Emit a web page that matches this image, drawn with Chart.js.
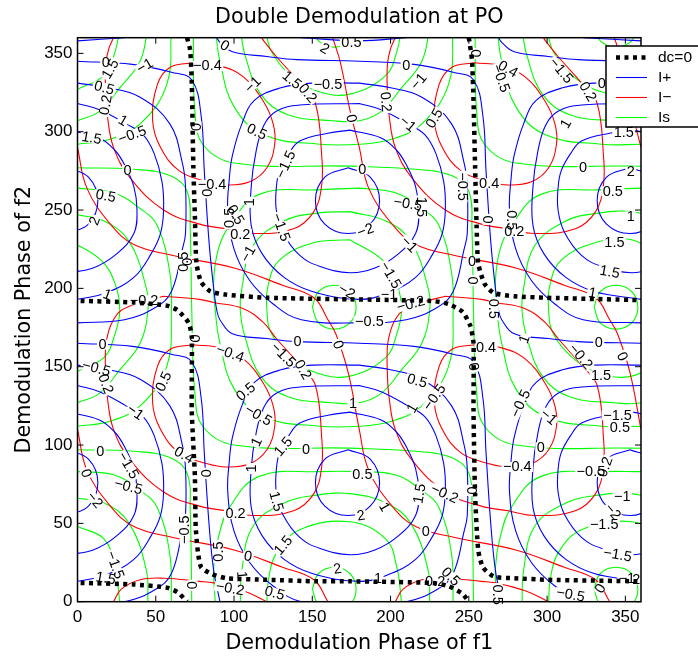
<!DOCTYPE html>
<html><head><meta charset="utf-8">
<style>html,body{margin:0;padding:0;background:#fff}canvas{display:block}</style>
<script src="https://cdn.jsdelivr.net/npm/chart.js@4"></script>
</head><body>
<canvas id="c" width="698" height="656"></canvas>
<script>
const xTickValues=[0,50,100,150,200,250,300,350];
const titleText="Double Demodulation at PO";
const xTitle="Demodulation Phase of f1";
const yTitle="Demodulation Phase of f2";

const dcCurves=[
[2,12,36,11,57,9,64,6,70,0],
[2,192,36,191,57,189,64,186,71,178,73,169,73,122,75,80,75.5,48,77,31,79,22,85,18,95,15,121,14,153,13,174,13,226,12,237,10,246,5,250,0],
[70,360,72,352,73,331,74,278,75,246,76,216,79,204,85,198,95,196,121,194,174,193,226,192,237,190,246,185,251,176,253,165,253,122,254,69,256,33,259,22,266,16,279,15,300,14,360,13],
[250,360,252,346,253,320,254,278,255,239,256,216,260,203,266,197,279,195,300,194,360,192.5]
];

const iPlusCurves=[
[0,345,35,343,60,338,73,333,79,310,81,275,84,230,87,200,89,186,91,180,99,171,121,168,140,166,180,165,215,163,240,158,253,153,259,130,261,95,264,50,267,20,271,0],
[89,360,91,357,99,351,121,348,140,346,180,345,215,343,240,338,253,333,259,310,261,275,264,230,267,200,269,186,271,180,279,171,301,168,320,166,360,165],
[269,360,271,357,279,351,301,348,320,346,360,345],
[0,165,35,163,60,158,73,153,79,130,81,95,84,50,87,20,91,0],
[173,97,187,91,193,76,187,61,173,55,158,61,152,76,158,91,173,97],
[353,97,367,91,373,76,367,61,353,55,338,61,332,76,338,91,353,97],
[-7,97,7,91,13,76,7,61,-7,55],
[173,277,187,271,193,256,187,241,173,235,158,241,152,256,158,271,173,277],
[353,277,367,271,373,256,367,241,353,235,338,241,332,256,338,271,353,277],
[-7,277,7,271,13,256,7,241,-7,235],
[174,121,160,119,142,114,135,106,129,95,127,84,127,70,131,56,142,41,155,34,174,30,190,33,205,42,216,55,218,70,216,85,210,99,204,108,194,116,174,121],
[374,116,354,121,340,119,322,114,315,106,309,95,307,84,307,70,311,56,322,41,335,34,354,30,370,33],
[-6,30,10,33,25,42,36,55,38,70,36,85,30,99,24,108,14,116,-6,121],
[174,301,160,299,142,294,135,286,129,275,127,264,127,250,131,236,142,221,155,214,174,210,190,213,205,222,216,235,218,250,216,265,210,279,204,288,194,296,174,301],
[374,296,354,301,340,299,322,294,315,286,309,275,307,264,307,250,311,236,322,221,335,214,354,210,370,213],
[-6,210,10,213,25,222,36,235,38,250,36,265,30,279,24,288,14,296,-6,301],
[180,138,142,137,127,133,119,124,114,107,111,85,111,60,118,42,132,27,150,18,180,13,198,17,216,27,227,42,233,55,235,70,234,88,229,106,222,118,211,125,194,134,180,138],
[360,138,322,137,307,133,299,124,294,107,291,85,291,60,298,42,312,27,330,18,360,13],
[0,13,18,17,36,27,47,42,53,55,55,70,54,88,49,106,42,118,31,125,14,134,0,138],
[180,318,142,317,127,313,119,304,114,287,111,265,111,240,118,222,132,207,150,198,180,193,198,197,216,207,227,222,233,235,235,250,234,268,229,286,222,298,211,305,194,314,180,318],
[360,318,322,317,307,313,299,304,294,287,291,265,291,240,298,222,312,207,330,198,360,193],
[0,193,18,197,36,207,47,222,53,235,55,250,54,268,49,286,42,298,31,305,14,314,0,318],
[180,151,150,151,130,148,113,140,105,125,99,105,97,90,96,70,100,45,110,25,125,10,143,0,180,-2,210,0,230,8,240,18,247,45,249,55,249,85,247,100,239,125,220,142,200,148,180,151],
[360,151,330,151,310,148,293,140,285,125,279,105,277,90,276,70,280,45,290,25,305,10,323,0,360,-2],
[0,-2,30,0,50,8,60,18,67,45,69,55,69,85,67,100,59,125,40,142,20,148,0,151],
[180,331,150,331,130,328,113,320,105,305,99,285,97,270,96,250,100,225,110,205,125,190,143,180,180,178,210,180,230,188,240,198,247,225,249,235,249,265,247,280,239,305,220,322,200,328,180,331],
[360,331,330,331,310,328,293,320,285,305,279,285,277,270,276,250,280,225,290,205,305,190,323,180,360,178],
[0,178,30,180,50,188,60,198,67,225,69,235,69,265,67,280,59,305,40,322,20,328,0,331],
[143,360,180,358,210,360],[323,360,360,358],[0,358,30,360]
];

const iMinusCurves=[
[0,290,6,264,21,241,36,228,61,221,100,213,131,202,151,194,160,180,165,171,173,146,180,110,186,84,201,61,216,48,241,41,280,33,311,22,331,14,340,0],
[163,360,168,344,174,314,180,290,186,264,201,241,216,228,241,221,280,213,311,202,331,194,340,180,345,171,353,146,360,110],
[343,360,348,344,354,314,360,290],
[0,110,6,84,21,61,36,48,61,41,100,33,131,22,151,14,160,0],
[74,164,59,161,51,150,48,127,53,110,65,95,83,88,95,86,110,88,121,97,126,112,125,125,119,139,106,155,91,162,74,164],
[254,164,239,161,231,150,228,127,233,110,245,95,263,88,275,86,290,88,301,97,306,112,305,125,299,139,286,155,271,162,254,164],
[74,344,59,341,51,330,48,307,53,290,65,275,83,268,95,266,110,268,121,277,126,292,125,305,119,319,106,335,91,342,74,344],
[254,344,239,341,231,330,228,307,233,290,245,275,263,268,275,266,290,268,301,277,306,292,305,305,299,319,286,335,271,342,254,344],
[55,195,40,191,28,186,23,180,20,173,18,163,18,145,19,131,23,110,34,90,55,70,78,61,95,58,112,55,138,58,151,69,156,86,156,105,152,138,143,150,127,168,119,178,106,187,87,191,78,193,55,195],
[235,195,220,191,208,186,203,180,200,173,198,163,198,145,199,131,203,110,214,90,235,70,258,61,275,58,292,55,318,58,331,69,336,86,336,105,332,138,323,150,307,168,299,178,286,187,267,191,258,193,235,195],
[23,0,28,8,40,14,55,15,78,13,87,12,106,7,119,1,122,-1],
[203,0,208,8,220,14,235,15,258,13,267,12,286,7,299,1,302,-1],
[23,360,20,353,18,343,18,325,19,311,23,290,34,270,55,250,78,241,95,238,112,235,138,238,151,249,156,266,156,285,152,318,143,330,127,348,119,358,117,361],
[203,360,200,353,198,343,198,325,199,311,203,290,214,270,235,250,258,241,275,238,292,235,318,238,331,249,336,266,336,285,332,318,323,330,307,348,299,358,297,361]
];

const isCurves=[
[0,277,36,276,59,272,70,262,72,238,73,186,75,133,80,112,100,100,174,98,216,96,239,92,250,82,252,58,253,0],
[74,360,75,313,80,292,100,280,174,278,216,276,239,272,250,262,252,238,253,186,255,133,260,112,280,100,354,98,360,98],
[0,97,36,96,59,92,70,82,72,58,73,0],
[254,360,255,313,260,292,280,280,354,278,360,278],
[150,8,154,18,164,22,174,18,178,8,174,-2,164,-6,154,-2,150,8],
[330,8,334,18,344,22,354,18,358,8,354,-2,344,-6,334,-2,330,8],
[150,188,154,198,164,202,174,198,178,188,174,178,164,174,154,178,150,188],
[330,188,334,198,344,202,354,198,358,188,354,178,344,174,334,178,330,188],
[150,368,154,358,164,354,174,358,178,368],
[330,368,334,358,344,354,354,358,358,368],
[121,0,122,14,127,31,142,46,174,51,197,40,204,22,207,0],
[301,0,302,14,307,31,322,46,354,51,377,40],
[0,48,17,40,24,22,27,0],
[174,231,150,229,129,218,122,203,121,186,124,171,136,156,153,146,174,144,197,156,204,171,207,186,204,203,195,218,174,231],
[375,218,354,231,330,229,309,218,302,203,301,186,304,171,316,156,333,146,354,144,377,156],
[0,147,17,156,24,171,27,186,24,203,15,218,-6,231],
[121,360,124,351,136,336,153,326,174,324,197,336,204,351,207,366],
[301,360,304,351,316,336,333,326,354,324,377,336],
[0,327,17,336,24,351,27,366],
[104,0,105,20,112,48,132,63,153,68,174,69,197,63,213,50,224,20,225,0],
[284,0,285,20,292,48,312,63,333,68,354,69,377,63],
[0,66,17,63,33,50,44,20,45,0],
[174,249,153,248,132,243,112,227,105,200,104,186,107,169,117,144,134,131,163,127,180,127,194,133,207,148,220,165,225,186,224,200,213,230,197,243,174,249],
[377,243,354,249,333,248,312,243,292,227,285,200,284,186,287,169,297,144,314,131,343,127,360,127,374,133],
[0,127,14,133,27,148,40,165,45,186,44,200,33,230,17,243,0,247],
[104,366,107,349,117,324,134,311,163,307,180,307,194,313,207,328,220,345,225,366],
[284,366,287,349,297,324,314,311,343,307,360,307],
[0,307,14,313,27,328,40,345,45,366],
[88,0,87,22,90,41,97,60,116,80,155,83,180,83,203,81,220,71,231,60,239,30,240,0],
[268,0,267,22,270,41,277,60,296,80,335,83,360,83],
[0,83,23,81,40,71,51,60,59,30,60,0],
[180,264,155,263,116,260,97,240,90,225,87,205,88,186,91,165,100,136,119,118,155,112,180,112,200,115,220,125,237,150,240,186,239,210,231,240,220,251,203,261,180,264],
[360,264,335,263,296,260,277,240,270,225,267,205,268,186,271,165,280,136,299,118,335,112,360,112],
[0,112,20,115,40,125,57,150,60,186,59,210,51,240,40,251,23,261,0,264],
[88,366,91,345,100,316,119,298,155,292,180,292,200,295,220,305,237,330,240,366],
[268,366,271,345,280,316,299,298,335,292,360,292],
[0,292,20,295,40,305,57,330,60,366]
];

const contourLabels=[
[18,344,"0",0],[21,340,"1.5",-60],[43,342,"−1",-30],[17,328,"0.5",15],[18,317,"0.2",-80],[29,307,"1",30],[35,298,"−0.5",-20],[9,296,"1.5",10],[32,275.5,"0",0],[18,259,"0.5",10],[11,243,"2",-70],
[83,342,"−0.4",0],[94,355,"0",30],[158,353,"2",30],[112,330,"−1",-45],[137,333,"1.5",40],[147,324.5,"0.2",50],[160,330,"−0.5",0],[114.5,300,"0.5",25],[76,303,"0",-90],[133,279,"−1.5",-65],
[86,266,"−0.4",0],[83,261,"0",-90],[110,255,"1",-90],[130,239,"−1.5",70],[97,245,"0.5",-90],[101,247,"0.5",60],[104,234.5,"0.2",0],[109,222,"−1",-60],[67.5,217,"0.5",-90],[70,217,"0",-90],[19,196,"1",20],[42.5,192.5,"−0.2",0],[172,198,"−2",30],
[175,357,"0.5",0],[254,350,"0",90],[275,340,"0.4",30],[270.5,334,"−0.5",70],[210,342.5,"0",0],[218,332,"−1",-50],[309,339,"−1.5",50],[326,325.5,"0.2",60],[335,331,"0",0],[197,319,"0.2",85],[175,308.5,"0",80],[211,305,"−1",40],[228,308.5,"0.5",-60],[312,305,"1",-60],[349,299.5,"1.5",0],
[182,276,"0",0],[323,277,"0",0],[353.5,274.5,"2",0],[246,265,"−0.5",90],[263,267,"0.4",0],[342,262,"0.5",0],[211,254,"−0.5",10],[220,252,"1.5",90],[353.5,246,"1",0],[262,244,"0",90],[277,243.5,"0.5",90],[279,236,"0.2",0],[184,237,"−2",-20],[212,228,"−1",45],[343,229.5,"1.5",0],[340,210.5,"1.5",10],[200,208.5,"−1.5",60],[252,217,"0",0],[252.5,205,"0",90],[199,196,"−1",0],[213,190,"−0.2",-15],[266,187,"0.5",90],[329,197,"1",10],[186.5,179,"−0.5",0],
[16,164,"0",0],[12,149,"−0.5",15],[18,139,"0.2",70],[55,140.5,"0.5",-65],[97.5,158.5,"−0.4",20],[75,168,"0",90],[140.5,166,"0",0],[166.5,164,"0",70],[131.5,157.5,"−1.5",45],[144,148,"0.2",60],[107.5,134,"0.5",-40],[115.5,119,"−0.5",30],[37,121,"−1",35],[114.5,102,"1",-65],[131.5,99,"1.5",-50],[14.5,96,"0",0],[146,97,"0",0],[68,93.5,"0.4",30],[32.5,87,"−1.5",60],[5.5,82,"0",70],[82,82,"0",90],[111,85,"1",-90],[32.5,73.5,"−0.5",15],[11,65,"−2",50],[101,56,"0.2",0],[127,64,"1.5",75],[68.5,46,"−0.5",-90],[90,32,"0.5",-90],[131.5,36,"1.5",-50],[109,29,"0",10],[24,23.5,"−1.5",70],[166,21,"2",-10],[18,15,"1.5",10],[105,17,"1",85],[73.5,10.5,"0",-90],[97.5,8.5,"−0.2",10],[126,5.5,"0.5",15],
[261,162,"0.4",0],[333,165.5,"0",0],[253,150,"0",80],[321.5,156.5,"−0.2",50],[285.5,167.5,"1",-70],[348,156.5,"0",65],[217,141,"0.5",15],[334.5,144.5,"1.5",0],[214,123.5,"1",-60],[228,130.5,"−0.5",-55],[176,126.5,"1",0],[283,126.5,"−0.5",-65],[345,119,"−1.5",0],[301,118,"−1",40],[346.5,111,"0.5",0],[296,98.5,"0",0],[281,86,"−0.4",0],[182,81.5,"0.5",0],[328,83,"−0.5",0],[337,86,"0.2",-70],[218.5,69,"1.5",-80],[251.5,71,"0",90],[234.5,69,"−0.2",25],[348,67,"−1",0],[342,57.5,"−2",50],[181,55,"2",-10],[196,60.5,"1",60],[336.5,49.5,"−1.5",0],[222.5,44.5,"0",0],[345,30,"−1.5",10],[192,14.5,"1",0],[228.5,13,"0.2",0],[238.5,16,"0.5",45],[268.5,4.5,"0.5",90],[315,4.5,"−0.5",10],[334,8.5,"0",-60],[351,14.5,"−1",0],[357,14,"2",0]
];

const legendNames=["dc=0","I+","I−","Is"];
const legendColors=["#000000","#0000ff","#ff0000","#00ff00"];

function pts(flat){const o=[];for(let i=0;i<flat.length;i+=2)o.push({x:flat[i],y:flat[i+1]});return o;}
const datasets=[];
function add(curves,name,color,width,dash){
  curves.forEach(c=>datasets.push({label:name,data:pts(c),borderColor:color,backgroundColor:color,borderWidth:width,borderDash:dash,
    showLine:true,pointRadius:0,pointHoverRadius:0,tension:dash.length?0.2:0.4,borderCapStyle:'butt',fill:false}));
}
add(dcCurves,legendNames[0],legendColors[0],4.5,[4,4.5]);
add(iPlusCurves,legendNames[1],legendColors[1],1.1,[]);
add(iMinusCurves,legendNames[2],legendColors[2],1.1,[]);
add(isCurves,legendNames[3],legendColors[3],1.1,[]);

const LABEL_FONT='14.5px "Liberation Sans"';
const labelPlugin={id:'contourLabels',
  beforeDatasetDraw(chart,args){
    if(args.index!==dcCurves.length-1)return;
    const {ctx,chartArea:a,scales:{x,y}}=chart;
    ctx.save();ctx.beginPath();ctx.rect(a.left,a.top,a.right-a.left,a.bottom-a.top);ctx.clip();
    ctx.font=LABEL_FONT;ctx.fillStyle='#fff';
    contourLabels.forEach(l=>{const w=ctx.measureText(l[2]).width+3;
      ctx.save();ctx.translate(x.getPixelForValue(l[0]),y.getPixelForValue(l[1]));ctx.rotate(l[3]*Math.PI/180);
      ctx.fillRect(-w/2,-5,w,10);ctx.restore();});
    ctx.restore();
  },
  afterDatasetsDraw(chart){
    const {ctx,scales:{x,y}}=chart;
    ctx.save();ctx.font=LABEL_FONT;ctx.fillStyle='#000';ctx.textAlign='center';ctx.textBaseline='middle';
    contourLabels.forEach(l=>{
      ctx.save();ctx.translate(x.getPixelForValue(l[0]),y.getPixelForValue(l[1]));ctx.rotate(l[3]*Math.PI/180);
      ctx.fillText(l[2],0,0.5);ctx.restore();});
    ctx.restore();
  }
};
const framePlugin={id:'frame',
  afterDatasetsDraw(chart){
    const {ctx,chartArea:a,scales:{x,y}}=chart;
    ctx.save();ctx.strokeStyle='#000';ctx.lineWidth=1.5;ctx.strokeRect(a.left,a.top,a.right-a.left,a.bottom-a.top);
    ctx.lineWidth=1;ctx.beginPath();
    x.ticks.forEach(t=>{const p=x.getPixelForValue(t.value);ctx.moveTo(p,a.bottom);ctx.lineTo(p,a.bottom-6);ctx.moveTo(p,a.top);ctx.lineTo(p,a.top+6);});
    y.ticks.forEach(t=>{const p=y.getPixelForValue(t.value);ctx.moveTo(a.left,p);ctx.lineTo(a.left+6,p);ctx.moveTo(a.right,p);ctx.lineTo(a.right-6,p);});
    ctx.stroke();ctx.restore();
  }
};
const legendPlugin={id:'boxLegend',
  afterDraw(chart){
    const ctx=chart.ctx;ctx.save();
    ctx.fillStyle='#fff';ctx.fillRect(606,46,94,81);
    ctx.strokeStyle='#000';ctx.lineWidth=1.5;ctx.strokeRect(606,46,94,81);
    ctx.font='15.5px "Liberation Sans"';ctx.textBaseline='middle';ctx.textAlign='left';
    legendNames.forEach((n,i)=>{
      const ly=57.5+i*20;
      ctx.strokeStyle=legendColors[i];ctx.lineWidth=i===0?4.5:1.1;ctx.setLineDash(i===0?[4,4.5]:[]);
      ctx.beginPath();ctx.moveTo(616,ly);ctx.lineTo(647,ly);ctx.stroke();ctx.setLineDash([]);
      ctx.fillStyle='#000';ctx.fillText(n,658,ly+0.5);
    });
    ctx.restore();
  }
};
const tickFont={family:'"Liberation Sans"',size:17};
const axisTitleFont={family:'"DejaVu Sans"',size:20.7};
new Chart(document.getElementById('c'),{
  type:'scatter',
  data:{datasets},
  plugins:[labelPlugin,framePlugin,legendPlugin],
  options:{
    responsive:false,animation:false,events:[],
    layout:{padding:{left:0,right:57,top:0,bottom:0}},
    plugins:{legend:{display:false},tooltip:{enabled:false},
      title:{display:true,text:titleText,fullSize:false,color:'#000',font:{family:'"DejaVu Sans"',size:20.7,weight:'normal',lineHeight:1.2},padding:{top:5,bottom:7.86}}},
    scales:{
      x:{type:'linear',min:0,max:360,afterFit:s=>{s.height=54.3;},
        grid:{display:false,drawTicks:false},border:{display:false},
        ticks:{stepSize:50,includeBounds:false,autoSkip:false,maxRotation:0,color:'#000',font:tickFont,padding:5,callback:v=>xTickValues.includes(v)?String(v):''},
        title:{display:true,text:xTitle,color:'#000',font:axisTitleFont,padding:{top:0,bottom:0}}},
      y:{type:'linear',min:0,max:360,afterFit:s=>{s.width=77.5;},
        grid:{display:false,drawTicks:false},border:{display:false},
        ticks:{stepSize:50,includeBounds:false,autoSkip:false,color:'#000',font:tickFont,padding:5,callback:v=>xTickValues.includes(v)?String(v):''},
        title:{display:true,text:yTitle,color:'#000',font:axisTitleFont,padding:{top:12,bottom:0}}}
    }
  }
});
</script>
</body></html>
